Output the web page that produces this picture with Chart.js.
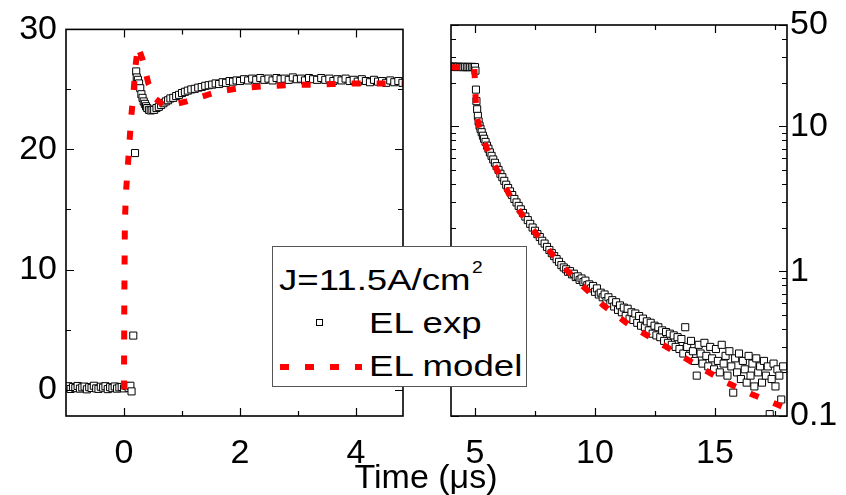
<!DOCTYPE html>
<html>
<head>
<meta charset="utf-8">
<script src="https://cdn.jsdelivr.net/npm/chart.js@4.4.1/dist/chart.umd.min.js"></script>
<style>
  body { margin: 0; background: #fff; }
  #wrap { position: relative; width: 846px; height: 495px; overflow: hidden; font-family: "Liberation Sans", Arial, sans-serif; }
  #leftBox { position: absolute; left: 0; top: 0; width: 420px; height: 495px; }
  #rightBox { position: absolute; left: 420px; top: 0; width: 426px; height: 495px; }
  #xtitle { position: absolute; left: 226px; width: 400px; top: 459px; text-align: center; font-size: 34px; line-height: 34px; color: #000; }
  #legend { position: absolute; left: 272px; top: 246px; width: 255px; height: 141px; box-sizing: border-box; border: 1px solid #555; background: #fff; }
  #legend .t { position: absolute; font-size: 30px; line-height: 30px; white-space: nowrap; transform: scaleX(1.22); transform-origin: left top; color: #000; }
  #legend .sup { position: absolute; left: 199px; top: 13px; font-size: 16px; line-height: 16px; transform: scaleX(1.2); transform-origin: left top; color: #000; }
  #legend .sq { position: absolute; left: 43px; top: 72px; width: 5px; height: 5px; border: 1px solid #000; background: #fff; }
  #legend .dash { position: absolute; left: 7px; top: 117px; width: 82px; height: 6px; background: repeating-linear-gradient(to right, #ff0000 0 9px, transparent 9px 25px); }
</style>
</head>
<body>
<div id="wrap">
  <div id="leftBox"><canvas id="leftChart" width="420" height="495"></canvas></div>
  <div id="rightBox"><canvas id="rightChart" width="426" height="495"></canvas></div>
  <div id="xtitle">Time (&mu;s)</div>
  <div id="legend">
    <div class="t" style="left:6px; top:18px;">J=11.5A/cm</div>
    <div class="sup">2</div>
    <div class="sq"></div>
    <div class="t" style="left:96px; top:61px;">EL exp</div>
    <div class="dash"></div>
    <div class="t" style="left:96px; top:104px;">EL model</div>
  </div>
</div>
<script>
// measured EL (time in us, signal a.u.)
var expTime = [
  -1.00,-0.96,-0.92,-0.88,-0.84,-0.80,-0.76,-0.72,-0.68,-0.64,
  -0.60,-0.56,-0.52,-0.48,-0.44,-0.40,-0.36,-0.32,-0.28,-0.24,
  -0.20,-0.16,-0.12,-0.08,-0.04,0.00,0.04,0.08,0.11,0.13,
  0.16,0.19,0.21,0.22,0.24,0.26,0.28,0.30,0.32,0.34,
  0.36,0.38,0.40,0.43,0.46,0.49,0.52,0.56,0.60,0.64,
  0.68,0.72,0.76,0.80,0.85,0.90,0.95,1.00,1.05,1.10,
  1.16,1.22,1.28,1.34,1.40,1.46,1.52,1.58,1.64,1.70,
  1.76,1.82,1.88,1.94,2.00,2.07,2.14,2.21,2.28,2.35,
  2.42,2.49,2.56,2.63,2.70,2.77,2.84,2.91,2.98,3.05,
  3.12,3.19,3.26,3.33,3.40,3.47,3.54,3.61,3.68,3.75,
  3.82,3.89,3.96,4.03,4.10,4.17,4.24,4.31,4.38,4.45,
  4.52,4.59,4.66,4.73,4.80,4.87,4.94,5.00,
  5.02,5.04,5.06,5.09,5.12,5.15,5.19,5.23,5.28,5.33,
  5.38,5.44,5.50,5.56,5.62,5.69,5.76,5.83,5.90,5.98,
  6.06,6.14,6.22,6.30,6.38,6.46,6.55,6.64,6.73,6.82,
  6.91,7.00,7.10,7.20,7.30,7.40,7.50,7.60,7.70,7.80,
  7.90,8.00,8.10,8.20,8.30,8.40,8.50,8.60,8.70,
  8.80,8.88,8.96,9.04,9.12,9.20,9.28,9.36,9.44,9.52,
  9.60,9.68,9.76,9.84,9.92,10.00,10.08,10.16,10.24,10.32,
  10.40,10.48,10.56,10.64,10.72,10.80,10.88,10.96,11.04,11.12,
  11.20,11.28,11.36,11.44,11.52,11.60,11.68,11.76,11.84,11.92,
  12.00,12.08,12.16,12.24,12.32,12.40,12.48,12.56,12.64,12.72,
  12.80,12.88,12.96,13.04,13.12,13.20,13.28,13.36,13.44,13.52,
  13.60,13.68,13.76,13.84,13.92,14.00,14.08,14.16,14.24,14.32,
  14.40,14.48,14.56,14.64,14.72,14.80,14.88,14.96,15.04,15.12,
  15.20,15.28,15.36,15.44,15.52,15.60,15.68,15.76,15.84,15.92,
  16.00,16.08,16.16,16.24,16.32,16.40,16.48,16.56,16.64,16.72,
  16.80,16.88,16.96,17.04,17.12,17.20,17.28,17.36,17.44,17.52,
  17.60,17.68,17.76,17.84
];
var expSignal = [
  0.15,0.28,0.05,0.22,0.12,0.30,0.08,0.18,0.25,0.02,
  0.20,0.14,0.32,0.10,0.06,0.24,0.16,0.28,0.04,0.20,
  0.12,0.26,0.08,0.18,0.22,0.10,0.30,0.15,0.32,-0.15,
  4.5,19.7,26.5,26.0,25.8,25.5,25.1,24.6,24.3,24.0,
  23.8,23.6,23.45,23.3,23.25,23.3,23.3,23.45,23.55,23.7,
  23.85,24.0,24.1,24.25,24.3,24.45,24.55,24.7,24.8,24.9,
  25.0,25.05,25.15,25.2,25.3,25.35,25.4,25.5,25.45,25.6,
  25.55,25.7,25.65,25.75,25.7,25.85,25.75,25.9,25.8,25.95,
  25.8,25.9,25.75,25.95,25.85,25.9,25.8,26.0,25.85,25.9,
  25.75,25.95,25.85,25.8,25.95,25.8,25.9,25.7,25.85,25.75,
  25.9,25.7,25.8,25.65,25.85,25.7,25.6,25.8,25.65,25.7,
  25.55,25.75,25.6,25.7,25.55,25.7,25.65,25.6,
  24.2,17.9,14.9,13.1,11.8,10.8,10.1,9.6,9.1,8.6,
  8.2,7.8,7.35,7.0,6.6,6.25,5.9,5.6,5.3,5.0,
  4.7,4.45,4.2,3.95,3.75,3.55,3.35,3.15,2.98,2.82,
  2.67,2.52,2.38,2.25,2.12,2.0,1.9,1.8,1.72,1.62,
  1.55,1.47,1.40,1.33,1.27,1.21,1.16,1.10,1.06,
  1.03,0.99,1.00,0.95,0.96,0.91,0.92,0.87,0.89,0.84,
  0.86,0.80,0.81,0.76,0.79,0.72,0.76,0.69,0.71,0.66,
  0.69,0.62,0.66,0.60,0.63,0.57,0.61,0.54,0.58,0.52,
  0.56,0.49,0.55,0.47,0.52,0.46,0.51,0.44,0.49,0.42,
  0.47,0.41,0.45,0.39,0.44,0.37,0.42,0.36,0.41,0.35,
  0.39,0.33,0.38,0.32,0.37,0.31,0.36,0.30,0.35,0.29,
  0.34,0.27,0.41,0.30,0.26,0.33,0.28,0.24,0.19,0.31,
  0.27,0.23,0.32,0.26,0.22,0.30,0.25,0.21,0.29,0.24,
  0.20,0.31,0.23,0.26,0.19,0.28,0.22,0.145,0.25,0.20,
  0.27,0.18,0.24,0.21,0.17,0.26,0.19,0.23,0.16,0.25,
  0.20,0.22,0.17,0.24,0.19,0.22,0.103,0.18,0.23,0.16,
  0.21,0.19,0.13,0.22
];

// model curve
var modelTime = [
  0, 0.005, 0.015, 0.034, 0.063, 0.092, 0.12, 0.16, 0.2, 0.24,
  0.32, 0.42, 0.55, 0.68, 0.85, 1.08, 1.3, 1.51, 1.72, 1.94,
  2.37, 2.8, 3.2, 3.6, 4.0, 4.4, 4.8, 4.97, 5.0, 5.03,
  5.08, 5.2, 5.35, 5.5, 5.76, 6.0, 6.32, 6.6, 6.875, 7.2,
  7.64, 8.0, 8.47, 9.0, 9.45, 10.35, 11.39, 12.43, 13.47, 14.51,
  15.49, 16.53, 17.57, 17.8
];
var modelSignal = [
  0, 7, 14, 16.4, 18.4, 20.4, 22.5, 24.5, 27, 28.6,
  27.5, 25.5, 24.2, 23.7, 23.75, 24.0, 24.35, 24.65, 24.9, 25.06,
  25.25, 25.35, 25.4, 25.45, 25.5, 25.5, 25.5, 25.5, 20, 15,
  11.5, 9.7, 8.1, 7.0, 5.6, 4.7, 3.65, 3.0, 2.57, 2.15,
  1.73, 1.45, 1.16, 0.95, 0.80, 0.58, 0.43, 0.34, 0.268, 0.211,
  0.170, 0.1415, 0.1205, 0.116
];

// ticks
var leftXTicks = [0, 2, 4];
var leftXMinor = [1, 3];
var leftYTicks = [0, 10, 20, 30];
var leftYMinor = [5, 15, 25];
var rightXTicks = [5, 10, 15];
var rightXMinor = [7.5, 12.5, 17.5];
var rightYTicks = [0.1, 1, 10, 50];
var rightYLabels = ['0.1', '1', '10', '50'];
var rightYMinor = [0.2, 0.3, 0.4, 0.5, 0.6, 0.7, 0.8, 0.9, 2, 3, 4, 5, 6, 7, 8, 9, 20, 30, 40];

var tickFont = { family: 'Liberation Sans, Arial, sans-serif', size: 34 };

function pts(t, v, lo, hi) {
  var out = [];
  for (var i = 0; i < t.length; i++) {
    if (t[i] >= lo && t[i] <= hi) out.push({ x: t[i], y: v[i] });
  }
  return out;
}

// frame + inward ticks on all four sides
var framePlugin = {
  id: 'frame',
  afterDatasetsDraw: function(chart, args, o) {
    var ctx = chart.ctx, a = chart.chartArea, xs = chart.scales.x, ys = chart.scales.y;
    ctx.save();
    ctx.strokeStyle = '#000';
    ctx.lineWidth = 1.2;
    ctx.beginPath();
    function xt(vals, len) {
      vals.forEach(function(v) {
        var p = Math.round(xs.getPixelForValue(v)) + 0.5;
        ctx.moveTo(p, a.bottom); ctx.lineTo(p, a.bottom - len);
        ctx.moveTo(p, a.top); ctx.lineTo(p, a.top + len);
      });
    }
    function yt(vals, len) {
      vals.forEach(function(v) {
        var p = Math.round(ys.getPixelForValue(v)) + 0.5;
        ctx.moveTo(a.left, p); ctx.lineTo(a.left + len, p);
        ctx.moveTo(a.right, p); ctx.lineTo(a.right - len, p);
      });
    }
    xt(o.xMajor, 8); xt(o.xMinor, 5);
    yt(o.yMajor, 8); yt(o.yMinor, 5);
    ctx.stroke();
    ctx.lineWidth = 1.6;
    ctx.strokeRect(a.left, a.top, a.right - a.left, a.bottom - a.top);
    ctx.restore();
  }
};

function modelSet(data) {
  return { label: 'EL model', data: data, showLine: true, borderColor: '#ff0000', borderWidth: 6,
           borderDash: [9, 16], pointRadius: 0, fill: false, order: 0 };
}
function expSet(data) {
  return { label: 'EL exp', data: data, pointStyle: 'rect', pointRadius: 5, borderWidth: 1,
           borderColor: '#000', backgroundColor: '#fff', showLine: false, order: 1 };
}

var noGrid = { display: false, drawTicks: false };

new Chart(document.getElementById('leftChart'), {
  type: 'scatter',
  data: { datasets: [modelSet(pts(modelTime, modelSignal, -2, 5.1)), expSet(pts(expTime, expSignal, -2, 5.1))] },
  options: {
    responsive: false, animation: false,
    layout: { padding: { top: 25, right: 17, left: 0, bottom: 0 } },
    plugins: { legend: { display: false }, tooltip: { enabled: false },
      frame: { xMajor: leftXTicks, xMinor: leftXMinor, yMajor: leftYTicks, yMinor: leftYMinor } },
    scales: {
      x: { type: 'linear', min: -1, max: 4.81,
        grid: noGrid, border: { display: false },
        afterBuildTicks: function(s) { s.ticks = leftXTicks.map(function(v) { return { value: v }; }); },
        afterFit: function(s) { s.height = 79; },
        ticks: { font: tickFont, color: '#000', padding: 17, maxRotation: 0 } },
      y: { type: 'linear', min: -2.2, max: 30,
        grid: noGrid, border: { display: false },
        afterBuildTicks: function(s) { s.ticks = leftYTicks.map(function(v) { return { value: v }; }); },
        afterFit: function(s) { s.width = 66; },
        ticks: { font: tickFont, color: '#000', padding: 9 } }
    }
  },
  plugins: [framePlugin]
});

new Chart(document.getElementById('rightChart'), {
  type: 'scatter',
  data: { datasets: [modelSet(pts(modelTime, modelSignal, 3.9, 20)), expSet(pts(expTime, expSignal, 3.9, 20))] },
  options: {
    responsive: false, animation: false,
    layout: { padding: { top: 25, right: 0, left: 31, bottom: 0 } },
    plugins: { legend: { display: false }, tooltip: { enabled: false },
      frame: { xMajor: rightXTicks, xMinor: rightXMinor, yMajor: rightYTicks, yMinor: rightYMinor } },
    scales: {
      x: { type: 'linear', min: 4, max: 18,
        grid: noGrid, border: { display: false },
        afterBuildTicks: function(s) { s.ticks = rightXTicks.map(function(v) { return { value: v }; }); },
        afterFit: function(s) { s.height = 79; },
        ticks: { font: tickFont, color: '#000', padding: 17, maxRotation: 0 } },
      y: { type: 'logarithmic', position: 'right', min: 0.1, max: 50,
        grid: noGrid, border: { display: false },
        afterBuildTicks: function(s) { s.ticks = rightYTicks.map(function(v) { return { value: v }; }); },
        afterFit: function(s) { s.width = 59; },
        ticks: { font: tickFont, color: '#000', padding: 3,
          callback: function(v) { var i = rightYTicks.indexOf(v); return i >= 0 ? rightYLabels[i] : ''; } } }
    }
  },
  plugins: [framePlugin]
});
</script>
</body>
</html>
